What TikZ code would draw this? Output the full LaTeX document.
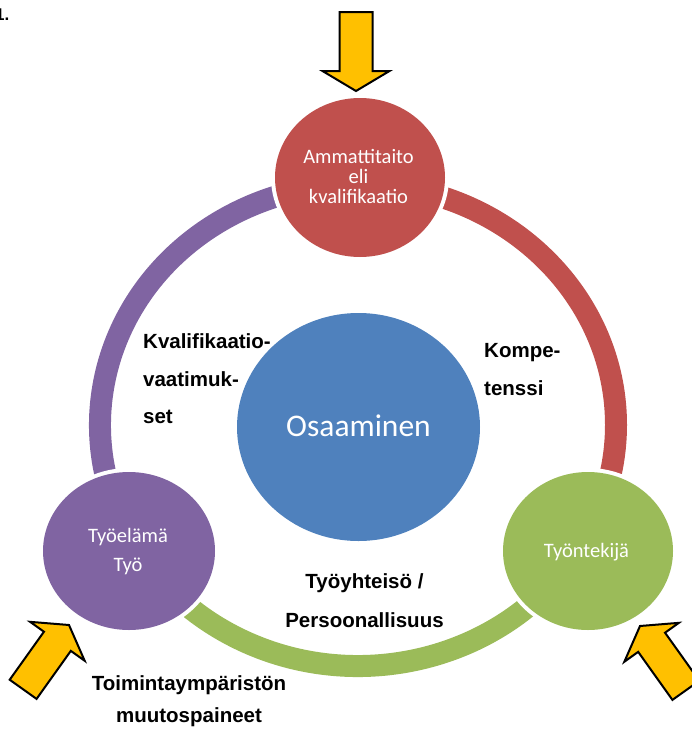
\documentclass[tikz,border=0pt]{standalone}
\usepackage{fontspec}
\setmainfont{Liberation Sans}
\newfontfamily\circlefont{Carlito}

\definecolor{cred}{HTML}{C0504D}
\definecolor{cpurple}{HTML}{8064A2}
\definecolor{cgreen}{HTML}{9BBB59}
\definecolor{cblue}{HTML}{4F81BD}
\definecolor{cyellow}{HTML}{FFC000}

\tikzset{
  ringarc/.style={line width=22pt},
  halo/.style={fill=white},
  bubbletext/.style={text=white, inner sep=0pt, anchor=base, font=\circlefont\fontsize{20.5}{24}\selectfont},
  boldlabel/.style={inner sep=0pt, font=\fontsize{20.5}{24}\selectfont\bfseries},
  pressure/.style={draw=black, fill=cyellow, line width=2pt, line join=miter},
  pics/blockarrow/.style={code={
    \draw[pressure] (0,0) -- (33.5,-20) -- (16.5,-20) -- (16.5,-79)
      -- (-16.5,-79) -- (-16.5,-20) -- (-33.5,-20) -- cycle;}}
}

\begin{document}
\begin{tikzpicture}[x=1pt,y=-1pt]
\useasboundingbox (0,0) rectangle (691,731);

% partly cut heading number
\node[inner sep=0pt, anchor=base east, font=\fontsize{17}{20}\selectfont\bfseries] (num) at (9.5,20) {1.};

% elliptic ring, one arc per segment
\coordinate (rc) at (358,425);
\draw[ringarc, cpurple] (rc) ++(150:258 and 241) arc[start angle=150, end angle=270, x radius=258, y radius=241];
\draw[ringarc, cred] (rc) ++(270:258 and 241) arc[start angle=270, end angle=390, x radius=258, y radius=241];
\draw[ringarc, cgreen] (rc) ++(30:258 and 241) arc[start angle=30, end angle=150, x radius=258, y radius=241];

% white halos around the three outer circles
\fill[halo] (360,177.5) ellipse[x radius=89, y radius=83.5];
\fill[halo] (129,551) ellipse[x radius=90, y radius=83];
\fill[halo] (588,551) ellipse[x radius=89, y radius=83];

% circles
\fill[cred] (360,177.5) ellipse[x radius=85, y radius=79.5];
\fill[cpurple] (129,551) ellipse[x radius=86, y radius=79];
\fill[cgreen] (588,551) ellipse[x radius=85, y radius=79];
\fill[cblue] (358.5,427) ellipse[x radius=121.5, y radius=114];

% circle texts
\node[bubbletext] (am1) at (358.5,163) {Ammattitaito};
\node[bubbletext] (am2) at (358.5,183) {eli};
\node[bubbletext] (am3) at (358.5,203) {kvalifikaatio};
\node[bubbletext] (te1) at (128,542) {Työelämä};
\node[bubbletext] (te2) at (128,571) {Työ};
\node[bubbletext] (tt) at (586.5,557) {Työntekijä};
\node[bubbletext, font=\circlefont\fontsize{31.5}{36}\selectfont] (osa) at (358.5,436) {Osaaminen};

% labels
\node[boldlabel, anchor=base west] (kv1) at (143,348) {Kvalifikaatio-};
\node[boldlabel, anchor=base west] (kv2) at (143,386) {vaatimuk-};
\node[boldlabel, anchor=base west] (kv3) at (143,423) {set};
\node[boldlabel, anchor=base west] (ko1) at (484,357) {Kompe-};
\node[boldlabel, anchor=base west] (ko2) at (484,395) {tenssi};
\node[boldlabel, anchor=base] (ty1) at (364.5,588) {Työyhteisö /};
\node[boldlabel, anchor=base] (ty2) at (364.5,627) {Persoonallisuus};
\node[boldlabel, anchor=base] (to1) at (189,690) {Toimintaympäristön};
\node[boldlabel, anchor=base] (to2) at (189,722) {muutospaineet};

% pressure arrows
\pic at (356,91) {blockarrow};
\pic[rotate=144.5] at (69,625) {blockarrow};
\pic[rotate=-144.5] at (640,626) {blockarrow};
\end{tikzpicture}
\end{document}
